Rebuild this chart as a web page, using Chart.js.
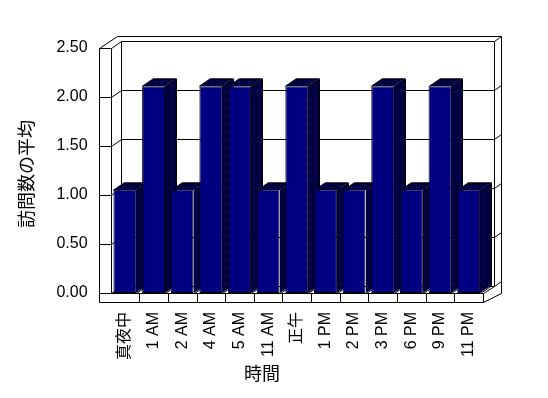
<!DOCTYPE html>
<html>
<head>
<meta charset="utf-8">
<script src="https://cdn.jsdelivr.net/npm/chart.js@4/dist/chart.umd.min.js"></script>
<style>
html,body{margin:0;padding:0;background:#fff;}
canvas{display:block;}
</style>
</head>
<body>
<canvas id="c" width="548" height="398"></canvas>
<script>
// ---- data ----
const categories = ['真夜中', '1 AM', '2 AM', '4 AM', '5 AM', '11 AM', '正午', '1 PM', '2 PM', '3 PM', '6 PM', '9 PM', '11 PM'];
const visitAverages = [1, 2, 1, 2, 2, 1, 2, 1, 1, 2, 1, 2, 1];
const yTickValues = [0, 0.5, 1, 1.5, 2, 2.5];
const yAxisTitle = '訪問数の平均';
const xAxisTitle = '時間';

// ---- style ----
const FONT = '"Liberation Sans", "Noto Sans CJK JP", sans-serif';
const NAVY = '#000080';
const DEPTH = { dx: 10.6, dy: -6.8 };     // floor depth from front to back wall
const THICK = { dx: 7.4, dy: -5.5 };      // back wall thickness
const BAR_DEPTH = { dx: 11, dy: -7.5 };
const LEFT_WALL = 11.5;
const FLOOR = 9;

function makeDither() {
  const c = document.createElement('canvas');
  c.width = 2; c.height = 2;
  const g = c.getContext('2d');
  g.fillStyle = '#000'; g.fillRect(0, 0, 2, 2);
  g.fillStyle = NAVY; g.fillRect(0, 0, 1, 1); g.fillRect(1, 1, 1, 1);
  return g.createPattern ? document.getElementById('c').getContext('2d').createPattern(c, 'repeat') : '#000040';
}

const P = v => Math.round(v) + 0.5;

const chart3d = {
  id: 'chart3d',
  beforeDatasetsDraw(chart) {
    const ctx = chart.ctx;
    const a = chart.chartArea;
    const ys = chart.scales.y;
    const xs = chart.scales.x;
    const L = a.left, R = a.right, T = ys.getPixelForValue(2.5), B = ys.getPixelForValue(0);
    const ln = (x1, y1, x2, y2) => { ctx.beginPath(); ctx.moveTo(P(x1), P(y1)); ctx.lineTo(P(x2), P(y2)); ctx.stroke(); };
    ctx.save();
    ctx.strokeStyle = '#000';
    ctx.lineWidth = 1;
    const OL = L - LEFT_WALL;
    // top / outer frame
    ln(OL, T, L, T);
    ln(OL, T, OL + DEPTH.dx + THICK.dx, T + DEPTH.dy + THICK.dy);
    ln(OL + DEPTH.dx + THICK.dx, T + DEPTH.dy + THICK.dy, R + DEPTH.dx + THICK.dx, T + DEPTH.dy + THICK.dy);
    // left wall front edges
    ln(OL, T, OL, B + FLOOR);
    ln(L, T, L, B);
    // back wall inner left edge
    ln(L + DEPTH.dx, T + DEPTH.dy, L + DEPTH.dx, B + DEPTH.dy);
    // right edges
    ln(R + DEPTH.dx, T + DEPTH.dy, R + DEPTH.dx, B + DEPTH.dy);
    ln(R + DEPTH.dx + THICK.dx, T + DEPTH.dy + THICK.dy, R + DEPTH.dx + THICK.dx, B + FLOOR + DEPTH.dy + THICK.dy + 3);
    // gridlines across left wall, side and back wall
    yTickValues.forEach(v => {
      const yf = ys.getPixelForValue(v);
      ln(OL, yf, L, yf);
      ln(L, yf, L + DEPTH.dx, yf + DEPTH.dy);
      ln(L + DEPTH.dx, yf + DEPTH.dy, R + DEPTH.dx, yf + DEPTH.dy);
      ln(R + DEPTH.dx, yf + DEPTH.dy, R + DEPTH.dx + THICK.dx, yf + DEPTH.dy + THICK.dy);
    });
    // floor
    ln(OL, B + FLOOR, R, B + FLOOR);
    ln(L, B, R, B);
    ln(R, B, R, B + FLOOR);
    ln(R, B, R + DEPTH.dx, B + DEPTH.dy);
    ln(R, B + FLOOR, R + DEPTH.dx + THICK.dx, B + FLOOR + DEPTH.dy + THICK.dy + 3);
    for (let i = 0; i < categories.length - 1; i++) {
      const xd = (xs.getPixelForValue(i) + xs.getPixelForValue(i + 1)) / 2;
      ln(xd, B, xd, B + FLOOR);
    }
    // bar depth faces
    const pat = makeDither();
    const meta = chart.getDatasetMeta(0);
    meta.data.forEach(bar => {
      const p = bar.getProps(['x', 'y', 'base', 'width'], true);
      const l = Math.round(p.x - p.width / 2), r = Math.round(p.x + p.width / 2);
      const t = Math.round(p.y), b = Math.round(p.base);
      const dx = BAR_DEPTH.dx, dy = BAR_DEPTH.dy;
      ctx.fillStyle = pat;
      // side face
      ctx.beginPath();
      ctx.moveTo(r, t); ctx.lineTo(r + dx, t + dy); ctx.lineTo(r + dx, b + dy); ctx.lineTo(r, b); ctx.closePath();
      ctx.fill();
      // top face
      ctx.beginPath();
      ctx.moveTo(l, t); ctx.lineTo(l + dx, t + dy); ctx.lineTo(r + dx, t + dy); ctx.lineTo(r, t); ctx.closePath();
      ctx.fill();
      ctx.strokeStyle = '#000';
      ctx.beginPath();
      ctx.moveTo(l + 0.5, t + 0.5); ctx.lineTo(l + dx + 0.5, t + dy + 0.5); ctx.lineTo(r + dx + 0.5, t + dy + 0.5);
      ctx.lineTo(r + dx + 0.5, b + dy + 0.5); ctx.lineTo(r + 0.5, b + 0.5);
      ctx.moveTo(r + 0.5, t + 0.5); ctx.lineTo(r + dx + 0.5, t + dy + 0.5);
      ctx.stroke();
    });
    ctx.restore();
  },
  afterDraw(chart) {
    const ctx = chart.ctx;
    ctx.save();
    ctx.fillStyle = '#000';
    ctx.font = '18px ' + FONT;
    ctx.textAlign = 'center';
    ctx.textBaseline = 'middle';
    ctx.fillText(xAxisTitle, 262, 375);
    ctx.translate(28, 174);
    ctx.rotate(-Math.PI / 2);
    ctx.fillText(yAxisTitle, 0, 0);
    ctx.restore();
  }
};

new Chart(document.getElementById('c'), {
  type: 'bar',
  data: {
    labels: categories,
    datasets: [{
      data: visitAverages,
      yAxisID: 'yBar',
      backgroundColor: NAVY,
      borderColor: '#000',
      borderWidth: 1,
      borderSkipped: false,
      categoryPercentage: 1,
      barPercentage: 0.8
    }]
  },
  options: {
    responsive: false,
    animation: false,
    devicePixelRatio: 1,
    layout: { padding: { top: 48, right: 65, left: 0, bottom: 0 } },
    plugins: { legend: { display: false }, tooltip: { enabled: false } },
    scales: {
      x: {
        grid: { display: false, drawTicks: false },
        border: { display: false },
        ticks: { autoSkip: false, maxRotation: 90, minRotation: 90, padding: 19, color: '#000', font: { family: FONT, size: 16 } },
        afterFit(s) { s.height = 105; }
      },
      y: {
        min: 0, max: 2.5,
        grid: { display: false, drawTicks: false },
        border: { display: false },
        afterBuildTicks(s) { s.ticks = yTickValues.map(v => ({ value: v })); },
        ticks: { padding: 23, color: '#000', font: { family: FONT, size: 16 }, callback: v => Number(v).toFixed(2) },
        afterFit(s) { s.width = 110.6; }
      },
      yBar: { display: false, min: 0, max: 2.37 }
    }
  },
  plugins: [chart3d]
});
</script>
</body>
</html>
